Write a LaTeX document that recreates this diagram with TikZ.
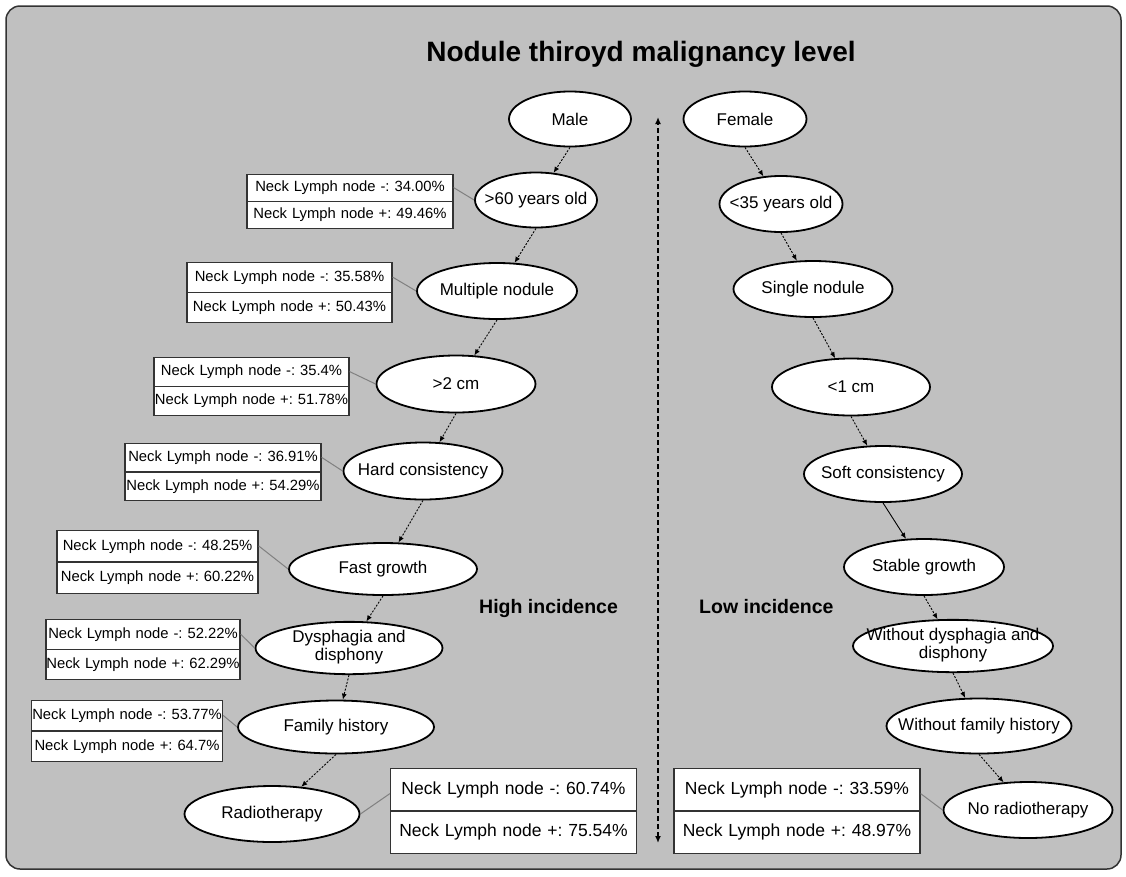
\documentclass[tikz,border=0pt]{standalone}
\usepackage{fontspec}
\setmainfont{Liberation Sans}
\usetikzlibrary{arrows.meta,calc,shapes.geometric,shapes.multipart}
\definecolor{panelgray}{HTML}{C0C0C0}
\newcommand{\zw}[1]{\makebox[0pt]{#1}}
\newcommand{\zwtwo}[2]{\makebox[0pt]{\begin{tabular}{@{}c@{}}#1\\#2\end{tabular}}}
\frenchspacing

\begin{document}
\begin{tikzpicture}[x=1pt,y=-1pt,>=Latex,
  ell/.style 2 args={ellipse,draw,line width=1.8pt,fill=white,inner sep=0pt,minimum width=#1,minimum height=#2,font=\fontsize{17}{18.5}\selectfont},
  nl/.style 2 args={rectangle split,rectangle split parts=2,draw=black!80,line width=1.3pt,fill=white,inner xsep=0pt,inner ysep=#2,text width=#1,align=center,font=\fontsize{14.8}{16}\selectfont},
  nlbig/.style={nl={246}{12.6},font=\fontsize{17.5}{19}\selectfont},
  flow/.style={line width=0.9pt,dash pattern=on 2pt off 1.5pt,-{Latex[length=6pt,width=5pt]}},
  tie/.style={draw=black!50,line width=1pt},
  side/.style={inner sep=0pt,anchor=base west,font=\bfseries\fontsize{19.5}{22}\selectfont}]
\useasboundingbox (0,0) rectangle (1126,876);
\fill[white] (0,0) rectangle (1126,876);
\draw[rounded corners=14pt,line width=1.5pt,draw=black!80,fill=panelgray] (6,6) rectangle (1121,869);

\node[anchor=base,font=\bfseries\fontsize{28}{32}\selectfont] (title) at (641,61) {Nodule thiroyd malignancy level};

% high incidence side
\node[ell={122}{55}] (male) at (570,119) {\zw{Male}};
\node[ell={122}{55}] (sixty) at (536,200) {\zw{>60 years old}};
\node[ell={160}{56}] (multi) at (497,291) {\zw{Multiple nodule}};
\node[ell={159}{57}] (twocm) at (456,384) {\zw{>2 cm}};
\node[ell={159}{57}] (hard) at (423,471) {\zw{Hard consistency}};
\node[ell={188}{52}] (fast) at (383,569) {\zw{Fast growth}};
\node[ell={187}{51}] (dys) at (349,648) {\zwtwo{Dysphagia and}{disphony}};
\node[ell={196}{53}] (fam) at (336,727) {\zw{Family history}};
\node[ell={175}{56}] (radio) at (272,814) {\zw{Radiotherapy}};

\draw[flow] (male.south) -- (sixty);
\draw[flow] (sixty.south) -- (multi);
\draw[flow] (multi.south) -- (twocm);
\draw[flow] (twocm.south) -- (hard);
\draw[flow] (hard.south) -- (fast);
\draw[flow] (fast.south) -- (dys);
\draw[flow] (dys.south) -- (fam);
\draw[flow] (fam.south) -- (radio);

\node[nl={206}{6}] (b1) at (350,201.5) {Neck Lymph node -: 34.00\%\nodepart{two}Neck Lymph node +: 49.46\%};
\node[nl={205}{7.5}] (b2) at (289.5,292.5) {Neck Lymph node -: 35.58\%\nodepart{two}Neck Lymph node +: 50.43\%};
\node[nl={195}{7}] (b3) at (251.5,386.5) {Neck Lymph node -: 35.4\%\nodepart{two}Neck Lymph node +: 51.78\%};
\node[nl={196}{6.75}] (b4) at (223,472) {Neck Lymph node -: 36.91\%\nodepart{two}Neck Lymph node +: 54.29\%};
\node[nl={201}{8.25}] (b5) at (157.5,562) {Neck Lymph node -: 48.25\%\nodepart{two}Neck Lymph node +: 60.22\%};
\node[nl={194}{7.5}] (b6) at (143,649.5) {Neck Lymph node -: 52.22\%\nodepart{two}Neck Lymph node +: 62.29\%};
\node[nl={191}{7.75}] (b7) at (127,731) {Neck Lymph node -: 53.77\%\nodepart{two}Neck Lymph node +: 64.7\%};
\node[nlbig] (bl) at (513.5,811) {Neck Lymph node -: 60.74\%\nodepart{two}Neck Lymph node +: 75.54\%};

\draw[tie] ($(b1.north east)!.5!(b1.east)$) -- (sixty.west);
\draw[tie] ($(b2.north east)!.5!(b2.east)$) -- (multi.west);
\draw[tie] ($(b3.north east)!.5!(b3.east)$) -- (twocm.west);
\draw[tie] ($(b4.north east)!.5!(b4.east)$) -- (hard.west);
\draw[tie] ($(b5.north east)!.5!(b5.east)$) -- (fast.west);
\draw[tie] ($(b6.north east)!.5!(b6.east)$) -- (dys.west);
\draw[tie] ($(b7.north east)!.5!(b7.east)$) -- (fam.west);
\draw[tie] (radio.east) -- ($(bl.north west)!.6!(bl.west)$);

% low incidence side
\node[ell={123}{55}] (female) at (745,119) {\zw{Female}};
\node[ell={123}{56}] (lt35) at (781,204) {\zw{<35 years old}};
\node[ell={159}{56}] (single) at (813,289) {\zw{Single nodule}};
\node[ell={158}{57}] (ltone) at (851,387) {\zw{<1 cm}};
\node[ell={158}{56}] (soft) at (883,474) {\zw{Soft consistency}};
\node[ell={160}{56}] (stable) at (924,567) {\zw{Stable growth}};
\node[ell={200}{52}] (wodys) at (953,646) {\zwtwo{Without dysphagia and}{disphony}};
\node[ell={185}{55}] (wofam) at (979,726) {\zw{Without family history}};
\node[ell={169}{56}] (norad) at (1028,810) {\zw{No radiotherapy}};

\draw[flow] (female.south) -- (lt35);
\draw[flow] (lt35.south) -- (single);
\draw[flow] (single.south) -- (ltone);
\draw[flow] (ltone.south) -- (soft);
\draw[flow,solid] (soft.south) -- (stable);
\draw[flow] (stable.south) -- (wodys);
\draw[flow] (wodys.south) -- (wofam);
\draw[flow] (wofam.south) -- (norad);

\node[nlbig] (br) at (797,811) {Neck Lymph node -: 33.59\%\nodepart{two}Neck Lymph node +: 48.97\%};
\draw[tie] ($(br.north east)!.6!(br.east)$) -- (norad.west);

% divider
\coordinate (top) at (658,117);
\coordinate (bot) at (658,843);
\draw[line width=2pt,dash pattern=on 5pt off 3pt,{Latex[length=7pt,width=6pt]}-{Latex[length=7pt,width=6pt]}] (bot) -- (top);

\node[side] (high) at (479,613) {High incidence};
\node[side] (low) at (699,613) {Low incidence};
\end{tikzpicture}
\end{document}
